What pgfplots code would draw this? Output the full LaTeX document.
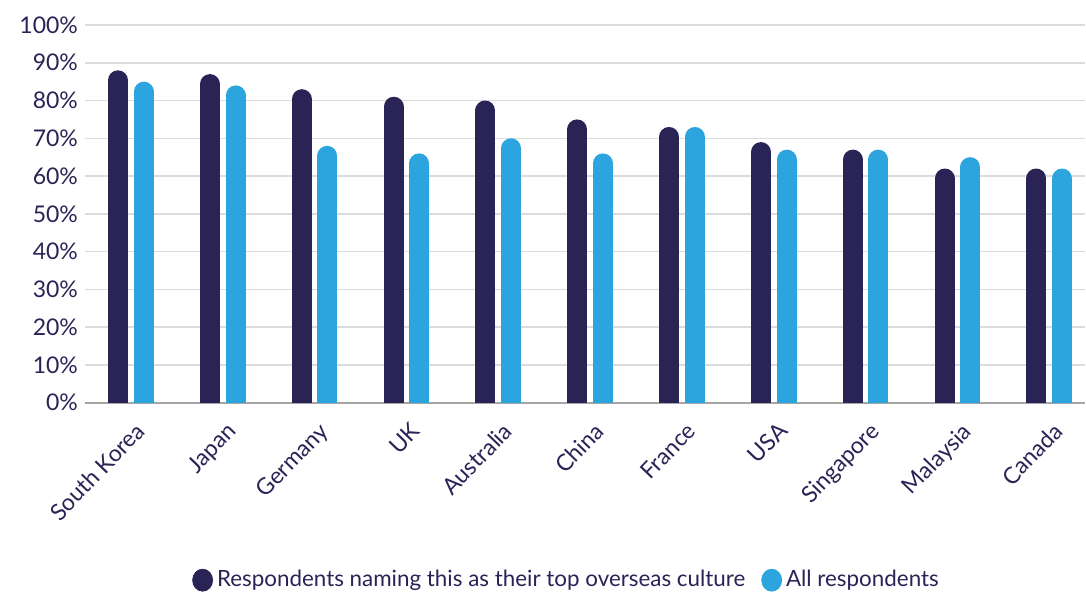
\documentclass[border=0pt]{standalone}
\usepackage{pgfplots}
\pgfplotsset{compat=1.18}
\usepackage{pgfplotstable}
\usepackage{fontspec}
\setmainfont{Lato}
\definecolor{navy}{HTML}{2A2356}
\definecolor{sky}{HTML}{2CA5DE}
\definecolor{gridc}{HTML}{DCDCDC}
\definecolor{axc}{HTML}{A6A6A6}

\pgfplotstableread{
idx dark light
0 88 85
1 87 84
2 83 68
3 81 66
4 80 70
5 75 66
6 73 73
7 69 67
8 67 67
9 62 65
10 62 62
}\datatable

\begin{document}
\begin{tikzpicture}
\begin{axis}[
  at={(0,0)}, anchor=south west,
  scale only axis,
  width=500.5pt, height=189pt,
  xmin=-0.5, xmax=10.39,
  ymin=0, ymax=100,
  ytick={0,10,...,100},
  yticklabel={\pgfmathprintnumber{\tick}\%},
  xtick={0,...,10},
  xticklabels={South Korea,Japan,Germany,UK,Australia,China,France,USA,Singapore,Malaysia,Canada},
  x tick label style={rotate=46, anchor=north east, font=\fontsize{11.5}{13}\selectfont, text=navy, yshift=-4pt, xshift=-2pt},
  y tick label style={font=\fontsize{11.5}{13}\selectfont, text=navy},
  /pgf/number format/assume math mode=true,
  major tick length=0pt,
  ymajorgrids, grid style={gridc, line width=0.75pt},
  axis y line*=left,
  y axis line style={draw=none},
  axis x line*=bottom,
  x axis line style={axc, line width=0.9pt, -},
  clip=true,
  legend columns=2,
  legend style={at={(0.4825,-0.47)}, anchor=center, draw=none, fill=none,
    font=\fontsize{11.2}{13}\selectfont, text=navy,
    /tikz/every even column/.append style={column sep=6pt}},
]
\addplot[navy, quiver={u=0, v=\thisrow{dark}, every arrow/.append style={line width=10pt, line cap=round, shorten >=5pt}},
  legend image code/.code={\fill[navy] (0.15cm,0) ellipse [x radius=5pt, y radius=5.5pt];}]
  table[x expr=\thisrow{idx}-0.14, y expr=0] {\datatable};
\addlegendentry{Respondents naming this as their top overseas culture}
\addplot[sky, quiver={u=0, v=\thisrow{light}, every arrow/.append style={line width=10pt, line cap=round, shorten >=5pt}},
  legend image code/.code={\fill[sky] (0.15cm,0) ellipse [x radius=5pt, y radius=5.5pt];}]
  table[x expr=\thisrow{idx}+0.14, y expr=0] {\datatable};
\addlegendentry{All respondents}
\end{axis}
\useasboundingbox (-42.5pt,-95pt) rectangle (500.5pt,201.5pt);
\end{tikzpicture}
\end{document}
